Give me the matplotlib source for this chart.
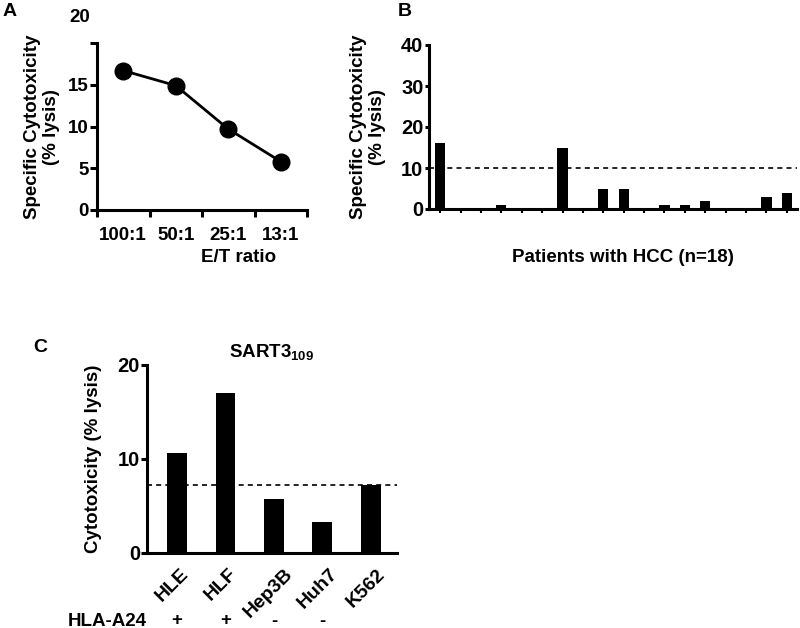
import matplotlib.pyplot as plt
from matplotlib.transforms import ScaledTranslation

plt.rcParams['font.family'] = ['Liberation Sans', 'DejaVu Sans']
plt.rcParams['font.weight'] = 'bold'
plt.rcParams['font.size'] = 13.5
plt.rcParams['mathtext.fontset'] = 'custom'
plt.rcParams['mathtext.bf'] = 'Liberation Sans:bold'
plt.rcParams['mathtext.rm'] = 'Liberation Sans:bold'

# Panel A: lysis by E/T ratio
ratios = ['100:1', '50:1', '25:1', '13:1']
lysis_ratio = [16.7, 14.9, 9.7, 5.8]

# Panel B: 18 HCC patients
patient_lysis = [16, 0, 0, 1, 0, 0, 15, 0, 5, 5, 0, 1, 1, 2, 0, 0, 3, 4]
cutoff_patients = 10

# Panel C: cell lines
cells = ['HLE', 'HLF', 'Hep3B', 'Huh7', 'K562']
cell_lysis = [10.6, 17.0, 5.7, 3.3, 7.2]
hla = ['+', '+', '-', '-', '']
cutoff_cells = 7.2

W, H = 800, 628


def box(left, top, right, bottom):
    # pixel box -> figure fraction
    return [left / W, 1 - bottom / H, (right - left) / W, (bottom - top) / H]


def fx(px):
    return px / W


def fy(py):
    return 1 - py / H


fig = plt.figure(figsize=(8, 6.28), dpi=100)

lw = 2.2

# ---------------- A ----------------
axA = fig.add_axes(box(97, 43, 307, 210))
xs = list(range(len(ratios)))
axA.plot(xs, lysis_ratio, color='black', lw=2, marker='o', markersize=12)
axA.set_xlim(-0.5, 3.5)
axA.set_ylim(0, 20)
axA.set_xticks([i - 0.5 for i in range(len(ratios) + 1)])
axA.set_xticklabels([])
axA.set_xticks(xs, minor=True)
axA.set_xticklabels(ratios, minor=True)
axA.tick_params(axis='x', which='minor', length=0, pad=12)
axA.tick_params(axis='x', which='major', length=5, width=lw)
axA.set_yticks([0, 5, 10, 15, 20])
axA.set_yticklabels(['0', '5', '10', '15', ''])
axA.tick_params(axis='y', length=5, width=lw, pad=1)
for s in ['top', 'right']:
    axA.spines[s].set_visible(False)
for s in ['left', 'bottom']:
    axA.spines[s].set_linewidth(lw)
fig.text(fx(80), fy(17), '20', ha='center', va='center')
fig.text(fx(42), fy(127), 'Specific Cytotoxicity\n(% lysis)', rotation=90,
         ha='center', va='center', linespacing=1.1)
fig.text(fx(239), fy(258), 'E/T ratio', ha='center', va='center')
fig.text(fx(10), fy(12), 'A', ha='center', va='center', fontsize=14)

# ---------------- B ----------------
axB = fig.add_axes(box(429, 45, 797, 209))
px = list(range(len(patient_lysis)))
axB.bar(px, patient_lysis, width=0.5, color='black', linewidth=0)
axB.axhline(cutoff_patients, color='black', lw=1.2, ls=(0, (3, 2.5)))
axB.set_xlim(-0.55, 17.5)
axB.set_ylim(0, 40)
axB.set_xticks(px)
axB.set_xticklabels([])
axB.tick_params(axis='x', length=3, width=1.5)
axB.set_yticks([0, 10, 20, 30, 40])
axB.tick_params(axis='y', length=3, width=lw, pad=1, labelsize=14.5)
for s in ['top', 'right']:
    axB.spines[s].set_visible(False)
for s in ['left', 'bottom']:
    axB.spines[s].set_linewidth(lw)
fig.text(fx(368), fy(127), 'Specific Cytotoxicity\n(% lysis)', rotation=90,
         ha='center', va='center', linespacing=1.1)
fig.text(fx(623), fy(258), 'Patients with HCC (n=18)', ha='center', va='center')
fig.text(fx(405), fy(12), 'B', ha='center', va='center', fontsize=14)

# ---------------- C ----------------
axC = fig.add_axes(box(147, 365, 397, 553))
cx = list(range(len(cells)))
axC.bar(cx, cell_lysis, width=0.41, color='black', linewidth=0)
axC.axhline(cutoff_cells, color='black', lw=1.2, ls=(0, (3, 2.5)))
axC.set_xlim(-0.62, 4.54)
axC.set_ylim(0, 20)
axC.set_yticks([0, 10, 20])
axC.tick_params(axis='y', length=4, width=lw, pad=1, labelsize=14.5)
axC.set_xticks(cx)
axC.set_xticklabels(cells, rotation=45, ha='center', va='top', fontsize=14)
axC.tick_params(axis='x', length=0, pad=9)
shift = ScaledTranslation(-5 / 100, 0, fig.dpi_scale_trans)
for lab in axC.get_xticklabels():
    lab.set_transform(lab.get_transform() + shift)
for s in ['top', 'right']:
    axC.spines[s].set_visible(False)
for s in ['left', 'bottom']:
    axC.spines[s].set_linewidth(lw)
axC.set_title(r'SART3$\mathbf{_{109}}$', fontsize=13.5, fontweight='bold', pad=6)
for i, sign in enumerate(hla):
    axC.annotate(sign, xy=(i, 0), xycoords=('data', 'axes fraction'),
                 xytext=(0, -(621 - 553)), textcoords='offset pixels',
                 ha='center', va='center')
fig.text(fx(107), fy(621), 'HLA-A24', ha='center', va='center')
fig.text(fx(93), fy(459), 'Cytotoxicity (% lysis)', rotation=90,
         ha='center', va='center')
fig.text(fx(40), fy(347), 'C', ha='center', va='center', fontsize=14)

fig.savefig('out.png', dpi=100)
